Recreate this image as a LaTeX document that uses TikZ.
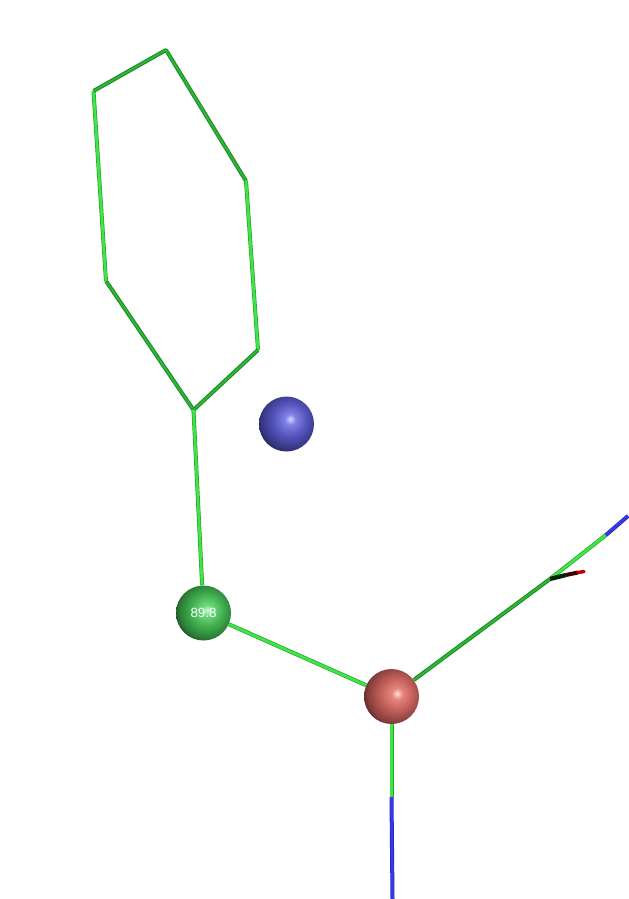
\documentclass[tikz,border=0pt]{standalone}
\usepackage{fontspec}
\setsansfont{Liberation Sans}

\definecolor{bondgreen}{RGB}{65,228,70}
\definecolor{bondedge}{RGB}{35,165,48}
\definecolor{bonddark}{RGB}{30,140,40}
\definecolor{bondblue}{RGB}{55,55,235}
\definecolor{blueedge}{RGB}{40,40,170}

\pgfdeclareradialshading{greenball}{\pgfpoint{3.5bp}{2.7bp}}{%
  rgb(0bp)=(0.82,0.98,0.84);
  rgb(5bp)=(0.42,0.85,0.48);
  rgb(15bp)=(0.25,0.68,0.31);
  rgb(25bp)=(0.17,0.48,0.21);
  rgb(30bp)=(0.09,0.27,0.11);
  rgb(100bp)=(0.09,0.27,0.11)}
\pgfdeclareradialshading{redball}{\pgfpoint{5.3bp}{2.7bp}}{%
  rgb(0bp)=(1.00,0.90,0.88);
  rgb(5bp)=(0.90,0.52,0.49);
  rgb(15bp)=(0.76,0.37,0.35);
  rgb(26bp)=(0.52,0.24,0.23);
  rgb(32bp)=(0.28,0.12,0.11);
  rgb(100bp)=(0.28,0.12,0.11)}
\pgfdeclareradialshading{blueball}{\pgfpoint{3.6bp}{4.5bp}}{%
  rgb(0bp)=(0.84,0.84,1.00);
  rgb(5bp)=(0.50,0.50,0.90);
  rgb(15bp)=(0.33,0.33,0.74);
  rgb(26bp)=(0.21,0.21,0.50);
  rgb(32bp)=(0.11,0.11,0.27);
  rgb(100bp)=(0.11,0.11,0.27)}

\tikzset{
  atom/.style={circle, inner sep=0pt, minimum size=#1*1.5pt},
  greenbond/.style={line width=0.5pt, draw=bondedge, double=bondgreen, double distance=2pt},
  darkbond/.style={line width=0.8pt, draw=bonddark, double=bondedge!70!bondgreen, double distance=1.4pt},
  bluebond/.style={line width=0.5pt, draw=blueedge, double=bondblue, double distance=2pt}
}

\begin{document}
\begin{tikzpicture}[x=0.75pt, y=-0.75pt]

    % Page
    \useasboundingbox (0,0) rectangle (628,899);

    % Coordinates for the ring
    \coordinate (R1) at (193.5,410);
    \coordinate (R2) at (106,281);
    \coordinate (R3) at (93.5,91);
    \coordinate (R4) at (166,50);
    \coordinate (R5) at (246,181);
    \coordinate (R6) at (258,350);

    % Coordinates for the two chains
    \coordinate (Bend) at (550,579);
    \coordinate (SideA) at (606,535);
    \coordinate (EndA) at (628,516);
    \coordinate (SideB) at (391.5,797);
    \coordinate (EndB) at (392.5,899);
    \coordinate (Oxa) at (566,575);
    \coordinate (Oxb) at (578,572.5);
    \coordinate (Oxc) at (584,571.5);

    % The three spheres
    \node[atom=27.5, shading=blueball] (Blue) at (286.5,424) {};
    \node[atom=27.5, shading=greenball, text=white, font=\sffamily\fontsize{10}{10}\selectfont] (Green) at (203.5,613) {89.8};
    \node[atom=27.5, shading=redball] (Red) at (391.5,696.5) {};

    % Ring
    \draw[darkbond, line join=round] (R1) -- (R2);
    \draw[greenbond, line join=round] (R2) -- (R3);
    \draw[darkbond, line join=round] (R3) -- (R4) -- (R5);
    \draw[greenbond, line join=round] (R5) -- (R6);
    \draw[darkbond, line join=round] (R6) -- (R1);

    % Chain
    \draw[greenbond] (R1) -- (Green);
    \draw[greenbond] (Green) -- (Red);
    \draw[darkbond] (Red) -- (Bend);
    \draw[greenbond] (Bend) -- (SideA);
    \draw[bluebond] (SideA) -- (EndA);
    \draw[greenbond] (Red) -- (SideB);
    \draw[bluebond] (SideB) -- (EndB);

    % Short side bond
    \draw[line width=3.2pt, black!85!green] (Bend) -- (Oxa);
    \draw[line width=3pt, red!25!black] (Oxa) -- (Oxb);
    \draw[line width=2.6pt, red!75!black, line cap=round] (Oxb) -- (Oxc);

\end{tikzpicture}
\end{document}
